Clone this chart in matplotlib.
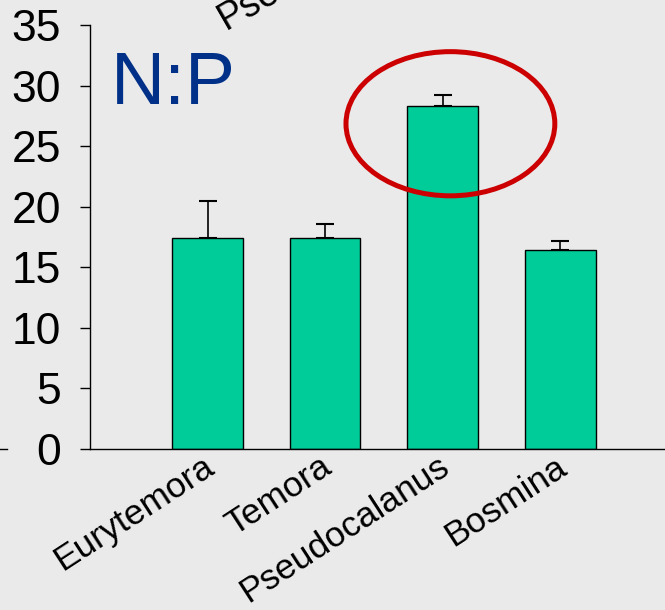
import matplotlib.pyplot as plt
from matplotlib.patches import Ellipse
from matplotlib.lines import Line2D
from matplotlib.transforms import ScaledTranslation

species = ["Eurytemora", "Temora", "Pseudocalanus", "Bosmina"]
np_ratio = [17.4, 17.4, 28.3, 16.4]
np_err = [3.1, 1.2, 0.95, 0.8]
y_ticks = [0, 5, 10, 15, 20, 25, 30, 35]

bg = "#eaeaea"
plt.rcParams["font.family"] = ["Liberation Sans", "DejaVu Sans"]

fig = plt.figure(figsize=(6.65, 6.10), dpi=100, facecolor=bg)
ax = fig.add_axes([90 / 665, 161 / 610, 1 - 90 / 665, 424 / 610])
ax.set_facecolor(bg)

x = range(len(species))
ax.bar(x, np_ratio, width=0.6, color="#00cc99", edgecolor="black", linewidth=1, zorder=2)
ax.errorbar(x, np_ratio, yerr=[[0] * len(np_err), np_err], fmt="none",
            ecolor="black", elinewidth=1.2, capsize=6.5, capthick=1.5, zorder=1)

ax.set_xlim(-1.0, 3.89)
ax.set_ylim(0, 35)
ax.set_yticks(y_ticks)
ax.tick_params(axis="y", direction="out", length=7, width=1, pad=14, labelsize=32)
ax.tick_params(axis="x", length=0, pad=2)
ax.set_xticks(list(x))
ax.set_xticklabels(species, rotation=33, ha="right", rotation_mode="anchor", fontsize=25.5)
shift = ScaledTranslation(-6 / 100, 2 / 100, fig.dpi_scale_trans)
for lbl in ax.get_xticklabels():
    lbl.set_transform(lbl.get_transform() + shift)

for side in ["top", "right"]:
    ax.spines[side].set_visible(False)
ax.spines["left"].set_linewidth(1)
ax.spines["bottom"].set_linewidth(1)

# N:P label and highlight around the Pseudocalanus bar
ax.text(0.037, 0.86, "N:P", transform=ax.transAxes, fontsize=54, color="#003087",
        ha="left", va="center")
ax.add_patch(Ellipse((2.065, 26.85), width=1.776, height=11.9, fill=False,
                     edgecolor="#cc0000", linewidth=3.6, zorder=3, clip_on=False))

# clipped label from the neighbouring panel above and stub of its axis at left
fig.text(226 / 665, 1 - 30 / 610, "Pseudocalanus", rotation=30, rotation_mode="anchor",
         ha="left", va="baseline", fontsize=27)
fig.add_artist(Line2D([0, 7 / 665], [161 / 610, 161 / 610], color="black", linewidth=1))

fig.savefig("out.png", dpi=100, facecolor=bg)
